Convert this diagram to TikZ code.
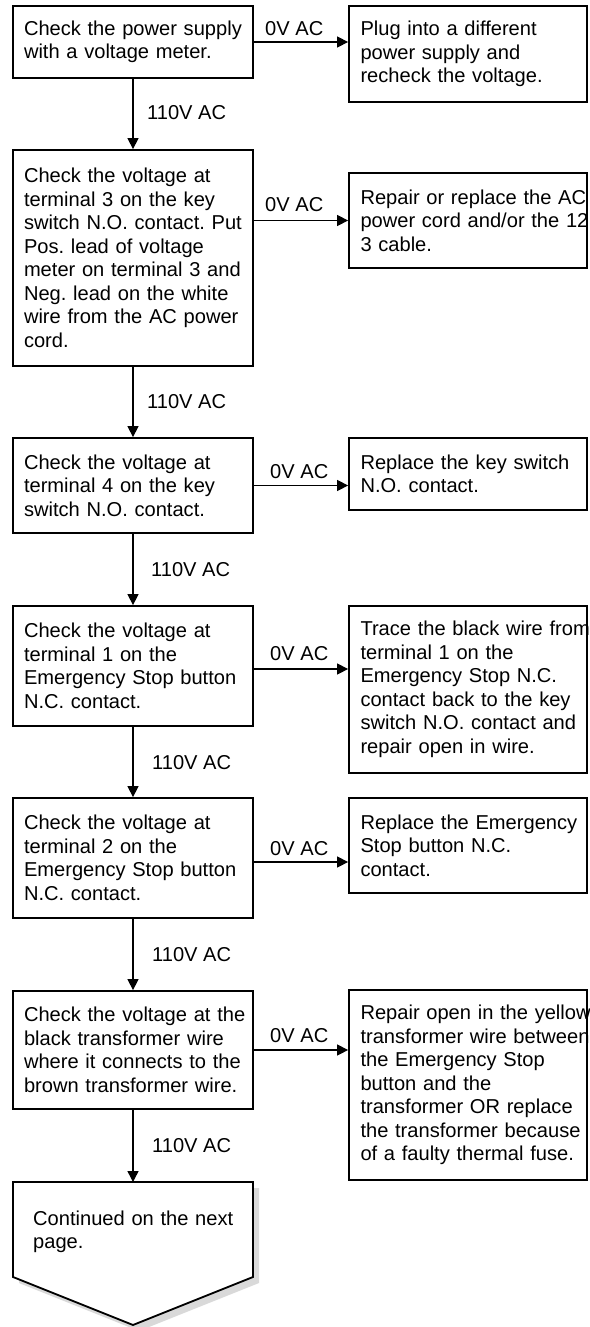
\documentclass[tikz,border=0pt]{standalone}
\usepackage{fontspec}
\setmainfont{Liberation Sans}
\usetikzlibrary{arrows.meta}
\frenchspacing
\begin{document}
\begin{tikzpicture}[x=1pt,y=-1pt,
  every node/.style={font=\fontsize{20.1}{23.5}\selectfont\frenchspacing},
  lbox/.style={draw, line width=1.8pt, text width=218pt, inner xsep=11pt, inner ysep=0pt, align=left, minimum width=240pt},
  rbox/.style={draw, line width=1.8pt, text width=215pt, inner xsep=11.5pt, inner ysep=0pt, align=left, minimum width=238pt},
  lbl/.style={inner sep=0pt, anchor=base west},
  flow/.style={line width=1.4pt, -{Triangle[length=11pt,width=11pt]}}
]
\useasboundingbox[fill=white] (0,0) rectangle (589,1327);

% left column
\node[lbox, minimum height=72pt] (b1) at (133,42) {\mbox{Check the power supply}\\\mbox{with a voltage meter.}};
\node[lbox, minimum height=216pt] (b2) at (133,258) {\mbox{Check the voltage at}\\\mbox{terminal 3 on the key}\\\mbox{switch N.O. contact. Put}\\\mbox{Pos. lead of voltage}\\\mbox{meter on terminal 3 and}\\\mbox{Neg. lead on the white}\\\mbox{wire from the AC power}\\\mbox{cord.}};
\node[lbox, minimum height=95pt] (b3) at (133,485.5) {\mbox{Check the voltage at}\\\mbox{terminal 4 on the key}\\\mbox{switch N.O. contact.}};
\node[lbox, minimum height=120pt] (b4) at (133,666) {\mbox{Check the voltage at}\\\mbox{terminal 1 on the}\\\mbox{Emergency Stop button}\\\mbox{N.C. contact.}};
\node[lbox, minimum height=120pt] (b5) at (133,858) {\mbox{Check the voltage at}\\\mbox{terminal 2 on the}\\\mbox{Emergency Stop button}\\\mbox{N.C. contact.}};
\node[lbox, minimum height=118pt] (b6) at (133,1050) {\mbox{Check the voltage at the}\\\mbox{black transformer wire}\\\mbox{where it connects to the}\\\mbox{brown transformer wire.}};

% right column
\node[rbox, minimum height=96pt] (r1) at (468,54) {\mbox{Plug into a different}\\\mbox{power supply and}\\\mbox{recheck the voltage.}};
\node[rbox, minimum height=95pt] (r2) at (468,220.5) {\mbox{Repair or replace the AC}\\\mbox{power cord and/or the 12}\\\mbox{3 cable.}};
\node[rbox, minimum height=72pt] (r3) at (468,474) {\mbox{Replace the key switch}\\\mbox{N.O. contact.}};
\node[rbox, minimum height=167pt] (r4) at (468,689.5) {\mbox{Trace the black wire from}\\\mbox{terminal 1 on the}\\\mbox{Emergency Stop N.C.}\\\mbox{contact back to the key}\\\mbox{switch N.O. contact and}\\\mbox{repair open in wire.}};
\node[rbox, minimum height=95pt] (r5) at (468,845.5) {\mbox{Replace the Emergency}\\\mbox{Stop button N.C.}\\\mbox{contact.}};
\node[rbox, minimum height=190pt] (r6) at (468,1085) {\mbox{Repair open in the yellow}\\\mbox{transformer wire between}\\\mbox{the Emergency Stop}\\\mbox{button and the}\\\mbox{transformer OR replace}\\\mbox{the transformer because}\\\mbox{of a faulty thermal fuse.}};

% continuation off-page connector
\fill[black!15] (19,1188) -- (259,1188) -- (259,1283) -- (139,1331) -- (19,1283) -- cycle;
\draw[line width=1.8pt, fill=white] (13,1182) -- (253,1182) -- (253,1277) -- (133,1325) -- (13,1277) -- cycle;
\coordinate (p) at (133,1182);
\node[lbl, text width=215pt, align=left] (pt) at (33,1225) {Continued on the next\\page.};

% vertical connectors
\draw[flow] (b1.south) -- (b2.north);
\draw[flow] (b2.south) -- (b3.north);
\draw[flow] (b3.south) -- (b4.north);
\draw[flow] (b4.south) -- (b5.north);
\draw[flow] (b5.south) -- (b6.north);
\draw[flow] (b6.south) -- (p);

\node[lbl] (v1) at (147,120) {110V AC};
\node[lbl] (v2) at (147,408) {110V AC};
\node[lbl] (v3) at (151,576) {110V AC};
\node[lbl] (v4) at (152,769) {110V AC};
\node[lbl] (v5) at (152,961) {110V AC};
\node[lbl] (v6) at (152,1152) {110V AC};

% horizontal connectors
\draw[flow] (b1.east) -- (b1.east -| r1.west);
\draw[flow] (r2.west -| b2.east) -- (r2.west);
\draw[flow] (b3.east) -- (b3.east -| r3.west);
\draw[flow] ([yshift=-3pt]b4.east) -- ([yshift=-3pt]b4.east -| r4.west);
\draw[flow] ([yshift=-4pt]b5.east) -- ([yshift=-4pt]b5.east -| r5.west);
\draw[flow] (b6.east) -- (b6.east -| r6.west);

\node[lbl] (h1) at (265,36) {0V AC};
\node[lbl] (h2) at (265,211) {0V AC};
\node[lbl] (h3) at (270,478) {0V AC};
\node[lbl] (h4) at (270,660) {0V AC};
\node[lbl] (h5) at (270,855) {0V AC};
\node[lbl] (h6) at (270,1042) {0V AC};
\end{tikzpicture}
\end{document}
